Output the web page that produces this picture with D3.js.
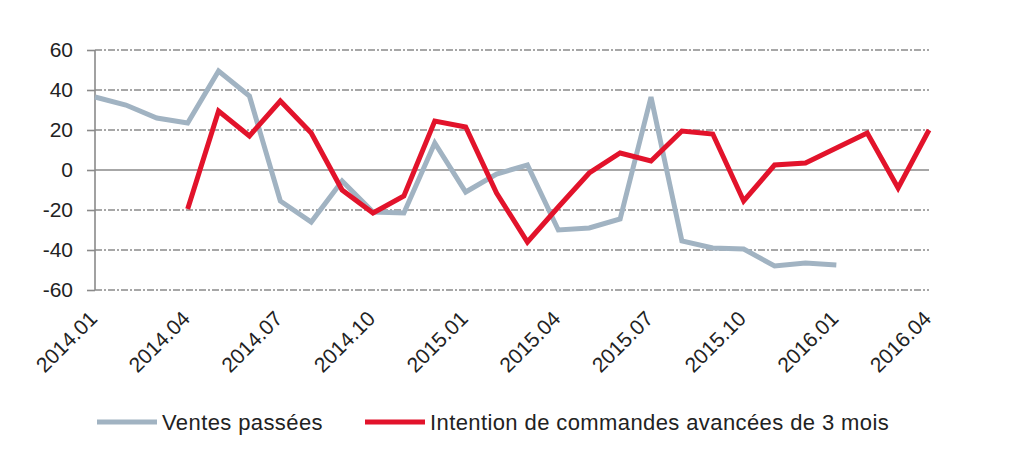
<!DOCTYPE html>
<html>
<head>
<meta charset="utf-8">
<script src="https://cdn.jsdelivr.net/npm/d3@7"></script>
<style>
  html, body { margin: 0; padding: 0; background: #fff; }
  text { font-family: "Liberation Sans", Arial, Helvetica, sans-serif; fill: #222; }
</style>
</head>
<body>
<svg id="chart" width="1024" height="460"></svg>
<script>
const months = ["2014.01","2014.02","2014.03","2014.04","2014.05","2014.06","2014.07","2014.08","2014.09","2014.10","2014.11","2014.12",
                "2015.01","2015.02","2015.03","2015.04","2015.05","2015.06","2015.07","2015.08","2015.09","2015.10","2015.11","2015.12",
                "2016.01","2016.02","2016.03","2016.04"];
const ventesPassees = [36.5, 32.5, 26, 23.5, 49.5, 37, -15.5, -26, -5.5, -21, -21.5, 13.5,
                       -11, -2, 2.5, -30, -29, -24.5, 36.5, -35.5, -39, -39.5, -48, -46.5,
                       -47.5, null, null, null];
const intentionCommandes = [null, null, null, -19.5, 29.5, 17, 34.5, 18.5, -10, -21.5, -13, 24.5,
                            21.5, -11.5, -36, -18.5, -1.5, 8.5, 4.5, 19.5, 18, -15.5, 2.5, 3.5,
                            11, 18.5, -9, 20];
const xTickLabels = ["2014.01","2014.04","2014.07","2014.10","2015.01","2015.04","2015.07","2015.10","2016.01","2016.04"];
const yTicks = [-60, -40, -20, 0, 20, 40, 60];
const seriesNames = ["Ventes passées", "Intention de commandes avancées de 3 mois"];
const seriesColors = ["#a1b3c2", "#e2132b"];

const svg = d3.select("#chart");
const x = d3.scalePoint().domain(months).range([95, 929]);
const y = d3.scaleLinear().domain([-60, 60]).range([290, 50]);

// grid lines
svg.append("g").selectAll("line").data(yTicks.filter(d => d !== 0)).join("line")
  .attr("x1", x.range()[0]).attr("x2", x.range()[1])
  .attr("y1", d => y(d)).attr("y2", d => y(d))
  .attr("stroke", "#8a8a8a").attr("stroke-width", 1.6)
  .attr("stroke-dasharray", "7,2,2,2");
// zero line
svg.append("line")
  .attr("x1", x.range()[0]).attr("x2", x.range()[1])
  .attr("y1", y(0)).attr("y2", y(0))
  .attr("stroke", "#8a8a8a").attr("stroke-width", 1.6);

// y axis
const yAxis = d3.axisLeft(y).tickValues(yTicks).tickSize(8).tickPadding(14).tickFormat(d => String(d));
const gy = svg.append("g").attr("transform", `translate(${x.range()[0]},0)`).call(yAxis);
gy.select(".domain").attr("stroke", "#8a8a8a").attr("stroke-width", 1.6).attr("d", `M0,${y(60)}V${y(-60)}`);
gy.selectAll(".tick line").attr("stroke", "#8a8a8a").attr("stroke-width", 1.6);
gy.selectAll(".tick text").style("font-size", "21px").attr("fill", "#222")
  .style("font-family", "'Liberation Sans', Arial, sans-serif");

// x axis labels (rotated)
const xAxis = d3.axisBottom(x).tickValues(xTickLabels).tickSize(0).tickPadding(0);
const gx = svg.append("g").attr("transform", "translate(0,290)").call(xAxis);
gx.select(".domain").remove();
gx.selectAll(".tick text")
  .style("font-size", "21px").attr("fill", "#222")
  .style("font-family", "'Liberation Sans', Arial, sans-serif")
  .attr("text-anchor", "end")
  .attr("dy", "0")
  .attr("y", 0)
  .attr("transform", "translate(3,30) rotate(-45)");

// lines
const line = d3.line()
  .defined(d => d.v !== null)
  .x(d => x(d.m))
  .y(d => y(d.v));
[ventesPassees, intentionCommandes].forEach((vals, i) => {
  svg.append("path")
    .datum(months.map((m, j) => ({ m, v: vals[j] })))
    .attr("fill", "none")
    .attr("stroke", seriesColors[i])
    .attr("stroke-width", 5)
    .attr("stroke-linejoin", "miter")
    .attr("d", line);
});

// legend
const legendX = [97, 365];
seriesNames.forEach((name, i) => {
  const g = svg.append("g").attr("transform", `translate(${legendX[i]},422)`);
  g.append("line").attr("x1", 0).attr("x2", 60).attr("y1", 0).attr("y2", 0)
    .attr("stroke", seriesColors[i]).attr("stroke-width", 5);
  g.append("text").attr("x", 65).attr("y", 7.5)
    .style("font-size", "22px").style("letter-spacing", "0.4px").text(name);
});
</script>
</body>
</html>
